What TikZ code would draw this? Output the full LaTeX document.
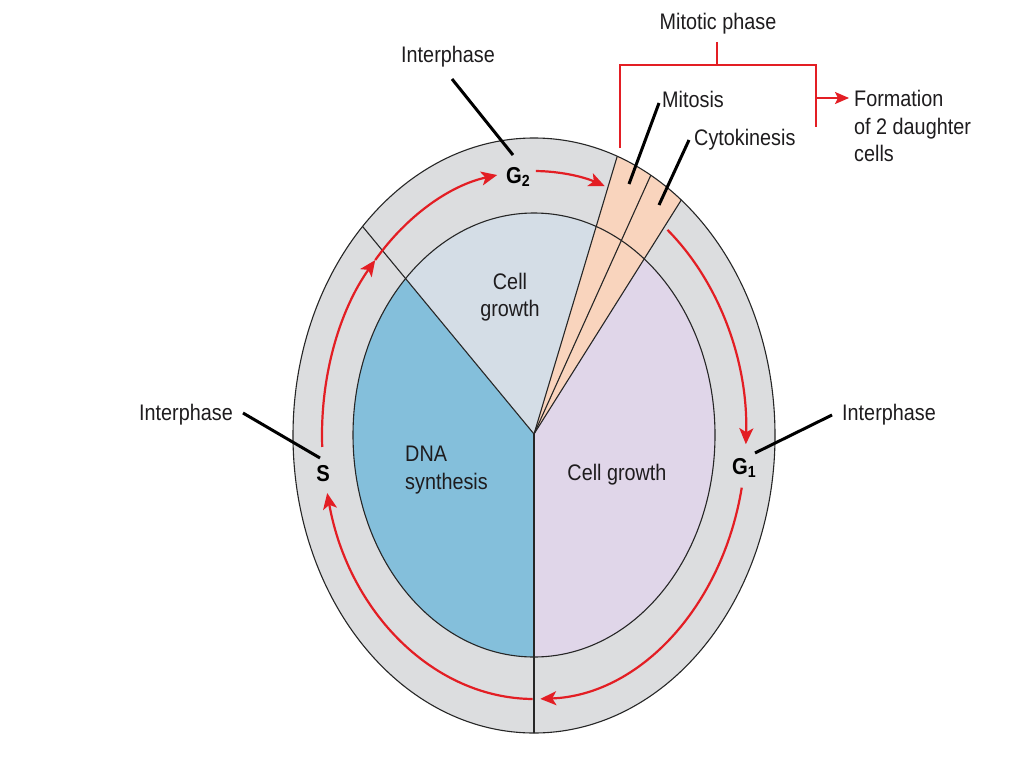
\documentclass[tikz,border=0pt]{standalone}
\usepackage{fontspec}
\setmainfont{Liberation Sans}[FakeStretch=0.88]
\usetikzlibrary{arrows.meta}
\definecolor{ringgray}{RGB}{220,221,223}
\definecolor{dnablue}{RGB}{132,191,219}
\definecolor{topcg}{RGB}{212,221,230}
\definecolor{rightcg}{RGB}{224,214,233}
\definecolor{peach}{RGB}{249,212,189}
\definecolor{cyclered}{RGB}{227,30,36}
\definecolor{txt}{RGB}{30,28,30}
\tikzset{
  edge/.style={draw=black!85, line width=1.1pt},
  redarr/.style={draw=cyclered, line width=2.2pt, -{Stealth[length=16pt,width=14pt,inset=4pt]}},
  bracket/.style={draw=cyclered, line width=2pt},
  leader/.style={draw=black, line width=3pt},
  lbl/.style={text=txt, inner sep=0pt},
  phase/.style={text=black, inner sep=0pt, font=\fontsize{23}{27}\selectfont\bfseries}
}
\begin{document}
\begin{tikzpicture}[x=1pt,y=1pt, font=\fontsize{22.5}{27.5}\selectfont]
\useasboundingbox (0,0) rectangle (1024,-768);
\fill[white] (0,0) rectangle (1024,-768);
\coordinate (O) at (534,-434);
\coordinate (E) at (534,-435.5);
\coordinate (I) at (534,-435);
\coordinate (R) at (534,-435);
% far points of the radii
\coordinate (fUL) at (21,187);
\coordinate (fWL) at (783,397);
\coordinate (fWM) at (882,337);
\coordinate (fWR) at (972,262);
\coordinate (fD) at (534,-900);
% ring
\fill[ringgray] (E) ellipse[x radius=241pt, y radius=297.5pt];
% pie
\begin{scope}
\clip (I) ellipse[x radius=181pt, y radius=222pt];
\fill[dnablue] (O) -- (fD) -- (-100,-900) -- (-100,187) -- (fUL) -- cycle;
\fill[topcg] (O) -- (fUL) -- (fWL) -- cycle;
\fill[rightcg] (O) -- (fWR) -- (1100,262) -- (1100,-900) -- (fD) -- cycle;
\end{scope}
% wedge and radii
\begin{scope}
\clip (E) ellipse[x radius=241pt, y radius=297.5pt];
\fill[peach] (O) -- (fWL) -- (fWR) -- cycle;
\draw[edge] (O) -- (fUL);
\draw[edge] (O) -- (fWL);
\draw[edge] (O) -- (fWM);
\draw[edge] (O) -- (fWR);
\draw[edge] (O) -- (fD);
\end{scope}
\draw[edge] (E) ellipse[x radius=241pt, y radius=297.5pt];
\draw[edge] (I) ellipse[x radius=181pt, y radius=222pt];
% red cycle arrows
\draw[redarr] ([shift={(182.6:212pt and 264pt)}]R) arc[start angle=182.6, end angle=138.5, x radius=212pt, y radius=264pt];
\draw[redarr] ([shift={(138.5:212pt and 264pt)}]R) arc[start angle=138.5, end angle=100, x radius=212pt, y radius=264pt];
\draw[redarr] ([shift={(89.5:212pt and 264pt)}]R) arc[start angle=89.5, end angle=70.5, x radius=212pt, y radius=264pt];
\draw[redarr] ([shift={(51:212pt and 264pt)}]R) arc[start angle=51, end angle=-2, x radius=212pt, y radius=264pt];
\draw[redarr] ([shift={(-11.5:212pt and 264pt)}]R) arc[start angle=-11.5, end angle=-88.3, x radius=212pt, y radius=264pt];
\draw[redarr] ([shift={(269.6:212pt and 264pt)}]R) arc[start angle=269.6, end angle=192.7, x radius=212pt, y radius=264pt];
% phase labels
\node[phase, anchor=base west] (g2) at (506,-183) {G\textsubscript{2}};
\node[phase, anchor=base] (s) at (323,-481) {S};
\node[phase, anchor=base west] (g1) at (732,-474) {G\textsubscript{1}};
% region labels
\node[lbl, align=center] (cgtop) at (510,-297) {Cell\\growth};
\node[lbl, align=left, anchor=west] (dna) at (405,-470) {DNA\\synthesis};
\node[lbl] (cgright) at (617,-475) {Cell growth};
% interphase labels and leaders
\node[lbl] (ipTop) at (448,-57) {Interphase};
\node[lbl] (ipLeft) at (186,-415) {Interphase};
\node[lbl] (ipRight) at (889,-415) {Interphase};
\coordinate (ipTopA) at (452,-79);
\coordinate (ipTopB) at (513,-155);
\coordinate (ipLeftA) at (243,-413);
\coordinate (ipLeftB) at (320,-458);
\coordinate (ipRightA) at (832,-415);
\coordinate (ipRightB) at (755,-453);
\draw[leader] (ipTopA) -- (ipTopB);
\draw[leader] (ipLeftA) -- (ipLeftB);
\draw[leader] (ipRightA) -- (ipRightB);
% mitotic phase
\node[lbl] (mp) at (718,-24) {Mitotic phase};
\node[lbl, anchor=west] (mit) at (662,-99) {Mitosis};
\node[lbl, anchor=west] (cyto) at (694,-140) {Cytokinesis};
\node[lbl, align=left, anchor=west] (form) at (854,-126) {Formation\\of 2 daughter\\cells};
\coordinate (mitA) at (659,-103);
\coordinate (mitB) at (629,-184);
\coordinate (cytA) at (689,-140);
\coordinate (cytB) at (659,-205);
\draw[leader] (mitA) -- (mitB);
\draw[leader] (cytA) -- (cytB);
\coordinate (brTop) at (717,-42);
\coordinate (brMid) at (717,-65);
\coordinate (brL) at (620,-65);
\coordinate (brLb) at (620,-148);
\coordinate (brR) at (816,-65);
\coordinate (brRb) at (816,-127);
\coordinate (brArrS) at (816,-98);
\coordinate (brArrE) at (849,-98);
\draw[bracket] (brTop) -- (brMid);
\draw[bracket] (brLb) -- (brL) -- (brR) -- (brRb);
\draw[bracket, -{Stealth[length=14pt,width=12pt,inset=3pt]}] (brArrS) -- (brArrE);
\end{tikzpicture}
\end{document}
